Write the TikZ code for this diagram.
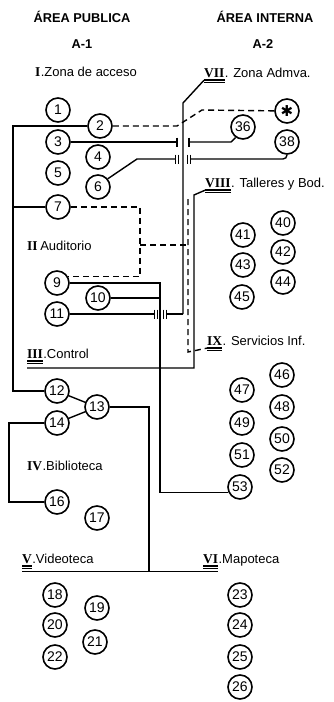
\documentclass[tikz,border=0pt]{standalone}
\usepackage{fontspec}
\setmainfont{Liberation Sans}
\newfontfamily\romfont{Liberation Serif}
\newfontfamily\symfont{DejaVu Sans}
\usetikzlibrary{positioning}

\begin{document}
\begin{tikzpicture}[
  x=1pt, y=-1pt,
  font=\fontsize{13}{15}\selectfont,
  num/.style={draw, circle, line width=1.6pt, minimum size=24pt, inner sep=0pt,
    font=\fontsize{14}{14}\selectfont},
  hdr/.style={font=\fontsize{12.8}{14}\selectfont\bfseries},
  rom/.style={inner sep=0pt, anchor=west,
    font=\fontsize{13.5}{15}\selectfont\romfont\bfseries},
  zone/.style={inner sep=0pt, anchor=base west},
  ln/.style={line width=1.4pt},
  dsh/.style={line width=1.4pt, dash pattern=on 6pt off 4pt},
  uline/.style={line width=2pt},
  gapbar/.pic={\draw[line width=1.2pt] (0,-4.5) -- (0,4.5);},
  dgapbar/.pic={\draw[line width=1.2pt] (-1.5,-4.5) -- (-1.5,4.5) (1.5,-4.5) -- (1.5,4.5);}
]
  \useasboundingbox (0,0) rectangle (334,702);

  % headers
  \node[hdr] (pub) at (82,17) {ÁREA PUBLICA};
  \node[hdr] (a1) at (82,44) {A-1};
  \node[hdr] (int) at (265,17) {ÁREA INTERNA};
  \node[hdr] (a2) at (263,44) {A-2};

  % zones
  \node[rom] (r1) at (35,72) {I};
  \node[zone] (z1) at (r1.base east) {.Zona de acceso};
  \node[rom] (r2) at (27,246) {II};
  \node[zone] (z2) at (r2.base east) {\,Auditorio};
  \node[rom] (r3) at (27,354) {III};
  \node[zone] (z3) at (r3.base east) {.Control};
  \node[rom] (r4) at (27,466) {IV};
  \node[zone] (z4) at (r4.base east) {.Biblioteca};
  \node[rom] (r5) at (22,559) {V};
  \node[zone] (z5) at (r5.base east) {.Videoteca};
  \node[rom] (r6) at (203,559) {VI};
  \node[zone] (z6) at (r6.base east) {.Mapoteca};
  \node[rom] (r7) at (204,73) {VII};
  \node[zone] (z7) at (r7.base east) {. Zona Admva.};
  \node[rom] (r8) at (205,183) {VIII};
  \node[zone] (z8) at (r8.base east) {. Talleres y Bod.};
  \node[rom] (r9) at (207,341) {IX};
  \node[zone] (z9) at (r9.base east) {. Servicios Inf.};

  \foreach \r in {r3,r5,r6,r7,r8,r9} {
    \draw[uline] ([yshift=-2.5pt]\r.south west) -- ([yshift=-2.5pt]\r.south east);
    \draw[line width=0.6pt] ([yshift=-5pt]\r.south west) -- ([yshift=-5pt]\r.south east);
    \coordinate (u\r) at ([yshift=-2.5pt]\r.south west);
  }

  % rooms
  \foreach \k/\px/\py in {1/58/110, 2/100/126, 3/58/142, 4/98/157, 5/58/173,
      6/98/187, 7/58/207, 9/57/283, 10/98/298, 11/57/314,
      12/57/391, 13/97/407, 14/57/423, 16/57/502, 17/97/518,
      18/55/595, 19/97/608, 20/55/625, 21/95/642, 22/55/657,
      23/240/595, 24/240/625, 25/240/657, 26/240/687,
      36/243/127, 38/287/142,
      40/283/223, 41/243/235, 42/283/252, 43/243/265, 44/283/282, 45/242/297,
      46/282/375, 47/242/390, 48/282/407, 49/242/423, 50/282/439,
      51/242/455, 52/282/470, 53/240/487} {
    \node[num] (c\k) at (\px,\py) {\k};
  }
  \node[num, font=\fontsize{15}{15}\selectfont\symfont] (star) at (287,111) {✱};

  % public side
  \draw[ln] (c2) -- (13,126) -- (13,391) -- (c12);
  \draw[ln] (c7) -- (13,207);
  \draw[dsh] (c7) -- (140,207) |- (c9.30);
  \draw[dsh] (140,245) -- (188,245);
  \draw[ln] (c9) -- (160,283) |- (c53.205);
  \draw[ln] (c10) -- (160,298);
  \draw[ln] (c11) -- (154.5,314);
  \pic at (156,314) {dgapbar};
  \pic at (165,314) {dgapbar};
  \draw[ln] (166.5,314) -- (183,314);
  \draw[ln] (c12) -- (c13);
  \draw[ln] (c14) -- (c13);
  \draw[ln] (c13) -- (149,407) -- (149,572);
  \draw[ln] (c14) -- (9,423) |- (c16);
  \draw[ln] ([yshift=-8pt]r5.south west) -- ([yshift=-8pt]r6.south east);

  % internal side
  \draw[ln] (ur7) -- (183,103) -- (183,314);
  \draw[dsh] (c2) -- (177,126) -- (202,110) -- (star);
  \draw[ln] (c3) -- (177,142);
  \pic at (177,142) {gapbar};
  \pic at (189,142) {gapbar};
  \draw[ln] (189,142) -- (231,142) -- (c36.235);
  \draw[ln] (c6.40) -- (137,159) -- (175.5,159);
  \pic at (177,159) {dgapbar};
  \pic at (189,159) {dgapbar};
  \draw[ln, rounded corners=4pt] (190.5,159) -| (c38.south);
  \draw[ln] (ur8) -- (194,195) -- (194,368) -- (27,368);
  \draw[dsh] (188,199) -- (188,352) -- (ur9);
\end{tikzpicture}
\end{document}
